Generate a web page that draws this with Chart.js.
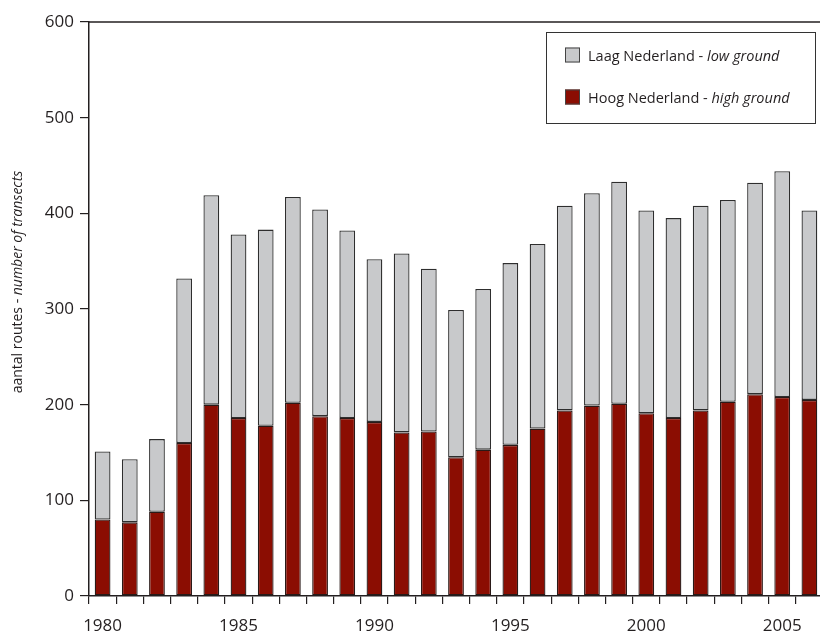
<!DOCTYPE html>
<html>
<head>
<meta charset="utf-8">
<script src="https://cdn.jsdelivr.net/npm/chart.js@4/dist/chart.umd.min.js"></script>
<style>
  html, body { margin: 0; padding: 0; background: #fff; overflow: hidden; }
  #wrap { width: 830px; height: 632px; }
</style>
</head>
<body>
<div id="wrap"><canvas id="c" width="830" height="632"></canvas></div>
<script>
// Survey years
const years = [1980,1981,1982,1983,1984,1985,1986,1987,1988,1989,1990,1991,1992,1993,
               1994,1995,1996,1997,1998,1999,2000,2001,2002,2003,2004,2005,2006];
// Routes on high ground (Hoog Nederland)
const highGround = [80,77,88,160,200,186,178,202,188,186,182,171,172,145,
                    153,158,175,194,199,201,191,186,194,203,211,208,205];
// Routes on low ground (Laag Nederland), stacked on top
const lowGround = [71,66,76,172,219,192,205,215,216,196,170,187,170,154,
                   168,190,193,214,222,232,212,209,214,211,221,236,198];
// Value axis ticks
const yTicks = [0,100,200,300,400,500,600];

const FONT = "'Open Sans', 'Liberation Sans', sans-serif";
const INK = '#231f20';
const RED = '#8b0d02';
const GREY = '#c8c9cb';

// Mixed roman/italic text helper
function drawMixed(ctx, parts, x, y, size) {
  let cx = x;
  for (const [txt, italic] of parts) {
    ctx.font = (italic ? 'italic ' : '') + size + 'px ' + FONT;
    ctx.fillText(txt, cx, y);
    cx += ctx.measureText(txt).width;
  }
  return cx - x;
}
function mixedWidth(ctx, parts, size) {
  let w = 0;
  for (const [txt, italic] of parts) {
    ctx.font = (italic ? 'italic ' : '') + size + 'px ' + FONT;
    w += ctx.measureText(txt).width;
  }
  return w;
}

// Frame line along the top of the plot, axis title and the boxed legend
const decorations = {
  id: 'decorations',
  afterDraw(chart) {
    const ctx = chart.ctx;
    const a = chart.chartArea;
    ctx.save();
    ctx.strokeStyle = INK;
    ctx.lineWidth = 1.5;
    ctx.beginPath();
    ctx.moveTo(a.left, a.top);
    ctx.lineTo(a.right + 10, a.top);
    ctx.stroke();

    // rotated axis title
    const tparts = [['aantal routes - ', false], ['number of transects', true]];
    const tsize = 14;
    ctx.fillStyle = INK;
    ctx.textBaseline = 'middle';
    ctx.textAlign = 'left';
    const tw = mixedWidth(ctx, tparts, tsize);
    ctx.translate(18, 282);
    ctx.rotate(-Math.PI / 2);
    drawMixed(ctx, tparts, -tw / 2, 0, tsize);
    ctx.setTransform(1, 0, 0, 1, 0, 0);

    // legend
    ctx.lineWidth = 1;
    ctx.strokeStyle = '#333';
    ctx.strokeRect(546.5, 32.5, 269, 91);
    const items = [
      { ds: chart.data.datasets[1], y: 55, parts: [['Laag Nederland - ', false], ['low ground', true]] },
      { ds: chart.data.datasets[0], y: 97, parts: [['Hoog Nederland - ', false], ['high ground', true]] }
    ];
    for (const it of items) {
      ctx.fillStyle = it.ds.backgroundColor;
      ctx.fillRect(565, it.y - 7.5, 15, 15);
      ctx.strokeStyle = '#444';
      ctx.strokeRect(565.5, it.y - 7, 14, 14);
      ctx.fillStyle = INK;
      ctx.textBaseline = 'middle';
      drawMixed(ctx, it.parts, 588, it.y + 2, 14.5);
    }
    ctx.restore();
  }
};

new Chart(document.getElementById('c'), {
  type: 'bar',
  data: {
    labels: years,
    datasets: [
      { label: 'Hoog Nederland - high ground', data: highGround, backgroundColor: RED,
        borderColor: '#2a1a18', borderWidth: 1.3, borderSkipped: false },
      { label: 'Laag Nederland - low ground', data: lowGround, backgroundColor: GREY,
        borderColor: '#2e2e2e', borderWidth: 1.3, borderSkipped: false }
    ]
  },
  options: {
    responsive: false,
    animation: false,
    events: [],
    layout: { padding: { top: 22, right: 7, left: 0, bottom: 0 } },
    plugins: { legend: { display: false }, tooltip: { enabled: false } },
    datasets: { bar: { categoryPercentage: 1, barPercentage: 0.58 } },
    scales: {
      x: {
        stacked: true,
        grid: { display: true, drawOnChartArea: false, drawTicks: true, tickLength: 8,
                color: INK, lineWidth: 1.2, offset: true },
        border: { display: true, color: INK, width: 1.5 },
        ticks: {
          autoSkip: false, maxRotation: 0, color: INK, padding: 12,
          font: { family: FONT, size: 17 },
          callback: function (v, i) { const y = years[i]; return y % 5 === 0 ? String(y) : ''; }
        },
        afterFit(scale) { scale.height = 36; }
      },
      y: {
        stacked: true, min: 0, max: 600,
        grid: { display: true, drawOnChartArea: false, drawTicks: true, tickLength: 9,
                color: INK, lineWidth: 1.2 },
        border: { display: true, color: INK, width: 1.5 },
        afterBuildTicks(scale) { scale.ticks = yTicks.map(v => ({ value: v })); },
        ticks: { color: INK, padding: 6, font: { family: FONT, size: 17 } },
        afterFit(scale) { scale.width = 89; }
      }
    }
  },
  plugins: [decorations]
});
</script>
</body>
</html>
